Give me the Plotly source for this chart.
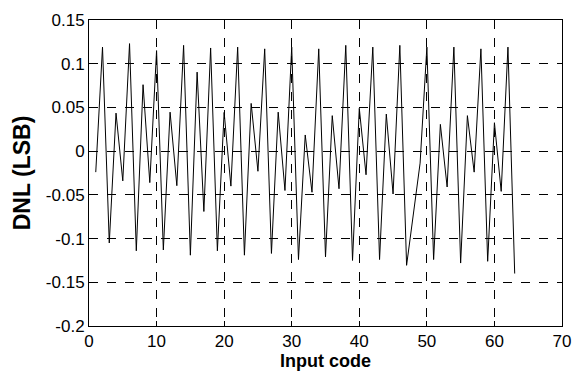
import plotly.graph_objects as go

codes = list(range(1, 64))
dnl = [-0.024, 0.119, -0.105, 0.0435, -0.034, 0.123, -0.114, 0.076, -0.036, 0.115,
       -0.113, 0.0446, -0.0395, 0.121, -0.119, 0.0904, -0.069, 0.118, -0.114, 0.0443,
       -0.040, 0.119, -0.119, 0.0546, -0.023, 0.117, -0.117, 0.0446, -0.045, 0.119,
       -0.124, 0.0185, -0.047, 0.117, -0.121, 0.0406, -0.043, 0.121, -0.125, 0.049,
       -0.027, 0.119, -0.124, 0.0424, -0.049, 0.121, -0.1306, -0.072, -0.0137, 0.119,
       -0.124, 0.0306, -0.041, 0.119, -0.128, 0.0406, -0.024, 0.117, -0.126, 0.0325,
       -0.046, 0.119, -0.140]

x_ticks = [0, 10, 20, 30, 40, 50, 60, 70]
y_ticks = [-0.2, -0.15, -0.1, -0.05, 0, 0.05, 0.1, 0.15]
y_labels = ["-0.2", "-0.15", "-0.1", "-0.05", "0", "0.05", "0.1", "0.15"]

FONT = "Liberation Sans, Arial"

fig = go.Figure(go.Scatter(x=codes, y=dnl, mode="lines",
                           line=dict(color="black", width=1)))

axis_common = dict(showline=True, linecolor="black", linewidth=1, mirror="ticks",
                   ticks="inside", ticklen=5, tickcolor="black",
                   showgrid=True, gridcolor="black", gridwidth=1, griddash="dash",
                   zeroline=False, tickfont=dict(family=FONT, size=17, color="black"))

fig.update_xaxes(range=[0, 70], tickvals=x_ticks, ticklabelstandoff=0, **axis_common,
                 title=dict(text="<b>Input code</b>", standoff=0,
                            font=dict(family=FONT, size=18, color="black")))
fig.update_yaxes(range=[-0.2, 0.15], tickvals=y_ticks, ticktext=y_labels, **axis_common,
                 title=dict(text="<b>DNL (LSB)</b>", standoff=8,
                            font=dict(family=FONT, size=23, color="black")))

fig.update_layout(width=582, height=375, margin=dict(l=89, r=11, t=20, b=40),
                  paper_bgcolor="white", plot_bgcolor="white", showlegend=False)

fig.write_html("out.html")
